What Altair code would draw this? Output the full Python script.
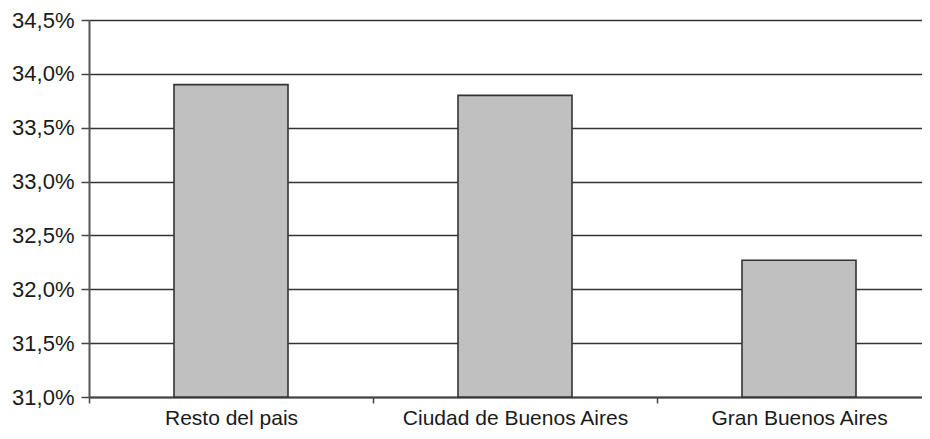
import altair as alt
import pandas as pd

categories = ["Resto del pais", "Ciudad de Buenos Aires", "Gran Buenos Aires"]
values = [33.90, 33.80, 32.27]

df = pd.DataFrame({"region": categories, "valor": values})

FONT = "Liberation Sans"

chart = alt.Chart(df).mark_bar(
    color="#c0c0c0", stroke="#333333", strokeWidth=1.6, size=114
).encode(
    x=alt.X("region:N", sort=categories, title=None,
            scale=alt.Scale(paddingInner=0, paddingOuter=0, range=[0, 852]),
            axis=alt.Axis(labelAngle=0, labelFont=FONT, labelFontSize=21, labelLimit=0,
                          labelColor="#1a1a1a", labelPadding=4, tickBand="extent",
                          tickColor="#444444", tickSize=6, tickWidth=1.5,
                          domainColor="#444444", domainWidth=2, grid=False)),
    y=alt.Y("valor:Q", title=None,
            scale=alt.Scale(domain=[31.0, 34.5], zero=False, nice=False),
            axis=alt.Axis(values=[31.0, 31.5, 32.0, 32.5, 33.0, 33.5, 34.0, 34.5],
                          labelExpr="replace(format(datum.value, '.1f'), '.', ',') + '%'",
                          labelFont=FONT, labelFontSize=22, labelColor="#1a1a1a",
                          labelPadding=7, tickSize=8, tickColor="#444444", tickWidth=1.5,
                          domainColor="#555555", domainWidth=2,
                          grid=True, gridColor="#333333", gridWidth=1.4)),
    y2=alt.datum(31.0),
).properties(
    width=833, height=377,
    autosize=alt.AutoSizeParams(type="none"),
    padding={"left": 81, "top": 12, "right": 0, "bottom": 34},
).configure_view(stroke=None).configure(background="white")

chart.save("out.html", embed_options={"renderer": "svg", "actions": False})
